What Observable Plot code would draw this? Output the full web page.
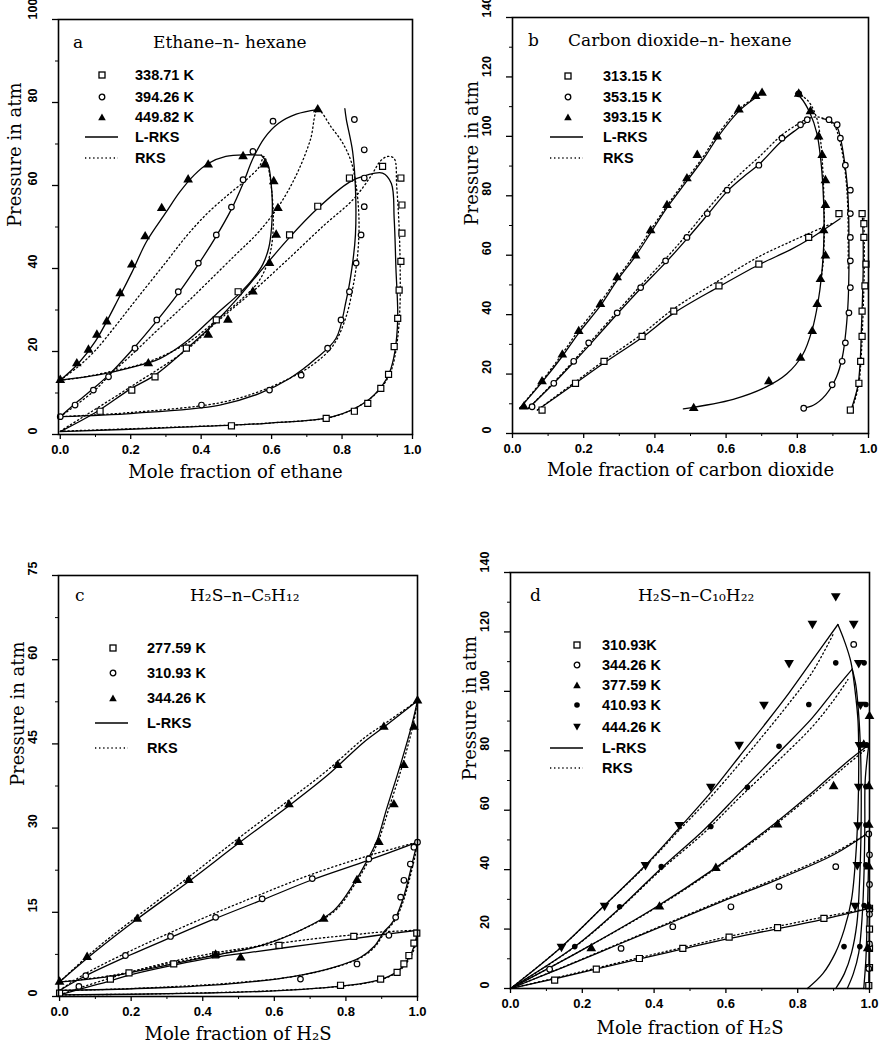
<!DOCTYPE html>
<html><head><meta charset="utf-8">
<script src="https://cdn.jsdelivr.net/npm/d3@7"></script>
<script src="https://cdn.jsdelivr.net/npm/@observablehq/plot@0.6"></script>
<style>
body{margin:0;background:#fff;width:889px;height:1059px;position:relative;overflow:hidden}
.panel{position:absolute}
.lg{position:absolute;font-family:"Liberation Sans",Arial,sans-serif;font-weight:bold;font-size:14.5px;color:#000;white-space:nowrap;line-height:14px}
.ttl{position:absolute;font-family:"DejaVu Serif",serif;font-size:17px;color:#000;white-space:nowrap;line-height:18px}
</style></head><body>
<div id="pa" class="panel" style="left:0;top:0"></div>
<div id="pb" class="panel" style="left:445px;top:0"></div>
<div id="pc" class="panel" style="left:0;top:530px"></div>
<div id="pd" class="panel" style="left:445px;top:530px"></div>
<script>
// ---------- axes ----------
const xMajor = [0, 0.2, 0.4, 0.6, 0.8, 1.0];
const xMinor = [0.1, 0.3, 0.5, 0.7, 0.9];
const yMajorA = [0, 20, 40, 60, 80, 100];
const yMinorA = [10, 30, 50, 70, 90];
const yMajorB = [0, 20, 40, 60, 80, 100, 120, 140];
const yMinorB = [10, 30, 50, 70, 90, 110, 130];
const yMajorC = [0, 15, 30, 45, 60, 75];
const yMinorC = [7.5, 22.5, 37.5, 52.5, 67.5];
const yMajorD = [0, 20, 40, 60, 80, 100, 120, 140];
const yMinorD = [10, 30, 50, 70, 90, 110, 130];

// ---------- panel a: ethane - n-hexane ----------
const aTemps = ["338.71 K", "394.26 K", "449.82 K"];
const aPts338 = [[0.113,5.6],[0.203,10.7],[0.269,13.9],[0.358,20.8],[0.443,27.6],[0.505,34.4],[0.651,48.1],[0.731,55],[0.821,61.8],
  [0.486,2.1],[0.755,3.9],[0.835,5.6],[0.873,7.5],[0.91,11.1],[0.932,14.5],[0.948,21.2],[0.958,28],[0.962,34.8],[0.967,41.7],[0.97,48.5],[0.97,55.3],[0.967,61.8],[0.915,64.6]];
const aPts394 = [[0,4.3],[0.042,7.1],[0.094,10.7],[0.137,13.9],[0.212,20.8],[0.274,27.6],[0.335,34.4],[0.392,41.3],[0.443,48.1],[0.486,54.8],[0.519,61.4],[0.547,68.2],[0.604,75.5],
  [0.835,75.9],[0.863,68.6],[0.863,61.8],[0.863,54.9],[0.854,48.1],[0.84,41.3],[0.821,34.4],[0.797,27.6],[0.759,20.8],[0.684,14.3],[0.594,10.7],[0.401,7.1]];
const aPts449 = [[0,13.1],[0.047,17.1],[0.08,20.4],[0.104,24],[0.132,27.2],[0.17,34],[0.203,40.9],[0.241,47.7],[0.288,54.5],[0.363,61.4],[0.42,65],[0.519,67],
  [0.58,65],[0.606,61],[0.618,54.5],[0.613,48.1],[0.594,41.3],[0.547,34.4],[0.476,27.6],[0.42,24],[0.25,17.1],[0.731,78.3]];
const aL338 = [[0,0.7],[0.1,5.3],[0.2,11],[0.269,14.3],[0.358,20.6],[0.443,27.3],[0.5,32.5],[0.56,38.5],[0.651,47.5],[0.731,54.5],[0.821,60.8],[0.87,62.5],[0.915,63],[0.94,60.5],[0.948,52],[0.953,40],[0.958,28],[0.95,20],[0.935,15],[0.915,11.9],[0.868,7.9],[0.774,4.3],[0.585,2.7],[0.302,1.6],[0,0.7]];
const aR338 = [[0,0.8],[0.2,11.5],[0.36,20.5],[0.443,27],[0.547,34.5],[0.65,42.5],[0.75,50.5],[0.83,56.5],[0.88,62],[0.91,66],[0.93,67],[0.948,66.5],[0.955,60],[0.962,50],[0.965,40],[0.964,30],[0.956,22],[0.94,15.5],[0.915,11.7],[0.87,8],[0.78,4.4],[0.6,2.8],[0.3,1.7],[0,0.8]];
const aL394b = [[0,4.3],[0.05,8],[0.1,11.5],[0.137,14.3],[0.2,20],[0.274,27.4],[0.335,34],[0.392,41],[0.443,47.8],[0.486,54.3],[0.519,60.5],[0.547,66.5],[0.58,71.5],[0.62,75],[0.67,77.2],[0.731,78.3]];
const aL394d = [[0.808,78.5],[0.812,76],[0.83,68.2],[0.838,59.4],[0.838,48.1],[0.828,40.1],[0.811,32],[0.783,23.2],[0.726,18.3],[0.651,13.5],[0.566,9.9],[0.453,7.1],[0.208,5.1],[0,4.3]];
const aR394 = [[0,4.3],[0.1,10.8],[0.142,14.5],[0.2,19],[0.274,25],[0.35,31],[0.42,36.8],[0.5,43.5],[0.56,48.5],[0.62,55],[0.67,62.5],[0.71,71],[0.731,78.3],[0.77,74],[0.8,70.5],[0.825,66],[0.84,60],[0.848,52],[0.845,44],[0.832,36],[0.81,28],[0.775,21.5],[0.72,17],[0.65,13.5],[0.56,10.2],[0.45,7.6],[0.2,5.3],[0,4.3]];
const aL449b = [[0,13.1],[0.05,17],[0.1,22.5],[0.17,33.5],[0.203,39],[0.245,46.5],[0.3,53.5],[0.34,58.5],[0.38,62.5],[0.42,65.3],[0.47,67],[0.528,67.4],[0.571,67.3]];
const aL449d = [[0.571,67.3],[0.59,65],[0.598,61],[0.602,56],[0.6,50],[0.592,45],[0.575,41],[0.547,37.5],[0.509,34],[0.443,29],[0.358,22.4],[0.283,18.3],[0.189,15.9],[0.104,14.3],[0.038,13.5],[0,13.1]];
const aR449 = [[0,13.1],[0.05,16.3],[0.1,20.3],[0.16,26.5],[0.22,33],[0.3,41.5],[0.36,48],[0.42,53.5],[0.48,58],[0.53,61.5],[0.565,64.5],[0.578,67],[0.59,64.5],[0.6,59],[0.605,52],[0.6,45.5],[0.585,40.5],[0.56,36.5],[0.52,33],[0.45,28],[0.36,22],[0.25,17.5],[0.15,15.3],[0.05,13.6],[0,13.1]];

// ---------- panel b: CO2 - n-hexane ----------
const bTemps = ["313.15 K", "353.15 K", "393.15 K"];
const bPts313 = [[0.083,7.9],[0.177,16.9],[0.257,24.3],[0.364,32.7],[0.453,41.2],[0.58,49.7],[0.692,57],[0.832,66],[0.917,74],
  [0.982,74],[0.987,70.6],[0.987,66],[0.993,57],[0.99,49.7],[0.982,41.2],[0.982,32.7],[0.978,24.3],[0.973,16.9],[0.949,7.9]];
const bPts353 = [[0.055,9],[0.116,16.9],[0.172,24.3],[0.214,30.5],[0.294,40.6],[0.36,49.1],[0.43,58.1],[0.49,66],[0.547,74],[0.603,81.9],[0.692,90.3],[0.757,99.4],[0.809,103.9],[0.828,105.6],
  [0.889,105.6],[0.912,103.9],[0.921,99.4],[0.935,90.3],[0.949,81.9],[0.949,74],[0.949,66],[0.949,58.1],[0.949,49.1],[0.945,40.6],[0.935,30.5],[0.926,24.3],[0.898,16.4],[0.818,8.5],[0.804,114.3]];
const bPts393 = [[0.032,9],[0.083,17.5],[0.14,26.5],[0.186,34.4],[0.247,43.5],[0.294,52.5],[0.346,59.8],[0.388,68.3],[0.434,76.8],[0.49,85.8],[0.519,93.7],[0.575,99.9],[0.636,109],[0.683,113.5],[0.701,114.6],
  [0.804,114.3],[0.837,108.4],[0.86,99.9],[0.87,93.7],[0.879,85.2],[0.879,76.8],[0.874,68.3],[0.879,59.8],[0.865,51.9],[0.856,43.5],[0.842,34.4],[0.809,25.4],[0.72,17.5],[0.509,8.5]];
const bL313b = [[0.07,7.9],[0.17,16.3],[0.257,23.7],[0.364,32.3],[0.453,40.5],[0.58,49.4],[0.692,56.8],[0.78,61.8],[0.832,65.3],[0.92,72.3]];
const bR313b = [[0.07,7.9],[0.17,16.8],[0.257,24.5],[0.364,33.5],[0.453,42],[0.58,51.5],[0.692,59.5],[0.78,64.5],[0.832,67.3],[0.9,70.8]];
const bL313d = [[0.983,72.5],[0.985,65],[0.985,55],[0.983,45],[0.98,35],[0.977,25],[0.97,16],[0.95,7.5]];
const bR313d = [[0.987,72.5],[0.988,65],[0.988,55],[0.986,45],[0.983,35],[0.979,25],[0.972,16],[0.952,7.5]];
const bL353b = [[0.045,8.5],[0.116,16.9],[0.172,24],[0.214,29.5],[0.294,40.2],[0.36,48.8],[0.43,57.5],[0.49,65.5],[0.547,73.5],[0.603,81.5],[0.65,86.5],[0.692,90.5],[0.757,98.5],[0.8,102.5],[0.828,105]];
const bR353b = [[0.045,8.5],[0.116,17.2],[0.172,24.5],[0.214,30.2],[0.294,41],[0.36,49.8],[0.43,58.8],[0.49,67],[0.547,75.3],[0.603,83],[0.65,88.5],[0.692,93],[0.757,100.5],[0.8,104],[0.83,106],[0.86,106.5],[0.885,105.5]];
const bL353d = [[0.87,106],[0.89,105.4],[0.91,103.5],[0.922,99],[0.932,92],[0.94,84],[0.944,75],[0.945,65],[0.945,55],[0.943,45],[0.937,35],[0.927,26],[0.91,19],[0.88,13],[0.845,9.5],[0.815,8.5]];
const bR353d = [[0.885,105.5],[0.905,103.5],[0.918,99],[0.93,92],[0.938,84],[0.942,75],[0.943,65],[0.943,55]];
const bL393b = [[0.02,8.5],[0.083,17.3],[0.14,26],[0.186,33.8],[0.247,43],[0.294,51.5],[0.346,59.8],[0.388,67.5],[0.434,76],[0.49,85],[0.54,93],[0.575,99.5],[0.636,108.5],[0.683,113],[0.7,114.5]];
const bR393b = [[0.02,8.5],[0.08,17.3],[0.135,26],[0.18,33.8],[0.24,43],[0.29,51.5],[0.34,59.8],[0.383,67.5],[0.43,76],[0.485,85],[0.535,93],[0.57,99.5],[0.63,108.5],[0.68,113],[0.7,114.5]];
const bL393d = [[0.795,114.5],[0.81,113],[0.835,108],[0.855,101],[0.866,92],[0.872,83],[0.875,73],[0.874,63],[0.868,53],[0.858,44],[0.842,35],[0.815,26.5],[0.77,20],[0.71,15.5],[0.62,11.5],[0.48,8.3]];
const bR393d = [[0.8,114.5],[0.83,112],[0.855,106],[0.866,98],[0.872,88],[0.875,78],[0.876,68],[0.873,58],[0.868,53]];

// ---------- panel c: H2S - n-C5H12 ----------
const cTemps = ["277.59 K", "310.93 K", "344.26 K"];
const cPts277 = [[0,0.6],[0.142,3.1],[0.194,4.2],[0.319,5.8],[0.436,7.4],[0.613,9.1],[0.822,10.7],
  [0.998,11.3],[0.99,9.5],[0.976,7.3],[0.962,5.8],[0.943,4.3],[0.897,3.1],[0.785,2.0]];
const cPts310 = [[0.054,1.8],[0.073,3.7],[0.184,7.3],[0.31,10.7],[0.436,14.1],[0.566,17.4],[0.706,21],[0.864,24.5],[1,27.5],
  [0.99,26.6],[0.98,23.6],[0.962,20.7],[0.953,17.7],[0.939,14.1],[0.92,10.9],[0.831,5.8],[0.673,3.1]];
const cPts344 = [[0,2.6],[0.077,7],[0.217,13.8],[0.361,20.7],[0.501,27.5],[0.641,34.2],[0.777,41.2],[0.906,48],[1,52.7],
  [0.99,48],[0.962,41.2],[0.934,34.2],[0.892,27.5],[0.831,20.7],[0.738,13.8],[0.506,6.9],[0.436,7.4]];
const cL277b = [[0,0.3],[0.05,1.2],[0.142,2.8],[0.2,3.9],[0.319,5.6],[0.436,7],[0.55,8],[0.7,9.3],[0.822,10.3],[0.9,11],[1,11.8]];
const cR277b = [[0,0.3],[0.05,1.4],[0.142,3.3],[0.2,4.4],[0.319,6.3],[0.436,7.8],[0.55,8.9],[0.7,10.2],[0.822,11],[0.9,11.5],[1,11.8]];
const cL277d = [[1,11.8],[0.995,10],[0.985,8],[0.97,6.3],[0.95,4.8],[0.92,3.6],[0.87,2.6],[0.78,1.8],[0.6,1],[0.4,0.6],[0.2,0.4],[0,0.3]];
const cR277d = [[1,11.8],[0.997,10],[0.988,8],[0.973,6.3],[0.953,4.8],[0.923,3.6],[0.873,2.6],[0.783,1.8],[0.6,1.05],[0.4,0.65],[0.2,0.4],[0,0.3]];
const cL310b = [[0,1.1],[0.073,3.7],[0.194,7.3],[0.31,10.5],[0.436,13.9],[0.566,17.2],[0.706,20.8],[0.864,24.3],[1,27.5]];
const cR310b = [[0,1.1],[0.073,4.1],[0.194,8],[0.31,11.4],[0.436,14.9],[0.566,18.3],[0.706,21.8],[0.864,25.1],[1,27.5]];
const cL310d = [[1,27.5],[0.99,25],[0.975,21],[0.96,17.5],[0.94,14.2],[0.925,12.8],[0.906,11.5],[0.88,9],[0.841,7],[0.766,5.2],[0.655,3.6],[0.5,2.4],[0.3,1.6],[0.1,1.2],[0,1.1]];
const cR310d = [[1,27.5],[0.993,25],[0.978,21],[0.963,17.5],[0.943,14.2],[0.928,12.8],[0.909,11.5],[0.883,9],[0.844,7],[0.769,5.2],[0.658,3.6],[0.5,2.5],[0.3,1.7],[0.1,1.2],[0,1.1]];
const cL344b = [[0,2.6],[0.1,8],[0.217,13.8],[0.361,20.5],[0.5,27.3],[0.641,34],[0.75,39.5],[0.85,45.3],[0.906,48],[1,52.7]];
const cR344b = [[0,2.6],[0.1,8.4],[0.217,14.3],[0.361,21.3],[0.5,28.2],[0.641,35],[0.75,40.4],[0.85,46],[0.906,48.5],[1,52.7]];
const cL344d = [[1,52.7],[0.985,48.6],[0.953,41.4],[0.915,33.7],[0.887,27.8],[0.859,24.2],[0.822,20.1],[0.766,15.3],[0.673,11.8],[0.56,9],[0.431,7.3],[0.3,5.6],[0.142,3.6],[0,2.6]];
const cR344d = [[1,52.7],[0.987,48.2],[0.957,41],[0.92,33.5],[0.89,27.6],[0.862,24],[0.825,20],[0.77,15.3],[0.68,12],[0.57,9.3],[0.44,7.5],[0.3,5.8],[0.142,3.7],[0,2.6]];

// ---------- panel d: H2S - n-C10H22 ----------
const dTemps = ["310.93K", "344.26 K", "377.59 K", "410.93 K", "444.26 K"];
const dPts310 = [[0.123,2.8],[0.239,6.5],[0.359,10.1],[0.48,13.5],[0.609,17.3],[0.744,20.5],[0.873,23.6],[1,27],[1,20],[1,13.5],[1,7],[0.998,1]];
const dPts344 = [[0.109,6.5],[0.308,13.5],[0.452,20.8],[0.614,27.5],[0.748,34.3],[0.906,41],[0.998,52],[1,45],[1,35],[1,25],[1,15],[0.998,6.7],[0.956,115.8]];
const dPts377 = [[0.225,13.5],[0.415,27.5],[0.572,40.5],[0.744,55.1],[0.9,68],[0.984,82],[1.0,91.6],[0.998,68],[0.998,55],[0.998,41],[0.998,27.5],[0.995,13.5]];
const dPts410 = [[0.179,14.1],[0.304,27.5],[0.42,41],[0.558,54.5],[0.66,67.7],[0.748,81.5],[0.831,95.6],[0.906,109.6],[0.985,109.6],[0.99,95.6],[0.992,82],[0.99,68],[0.99,55],[0.99,41.6],[0.985,27.9],[0.973,14.1],[0.929,14.1]];
const dPts444 = [[0.142,14.1],[0.262,27.9],[0.376,41.6],[0.47,55.1],[0.558,68],[0.637,82.1],[0.706,95.6],[0.776,109.6],[0.841,122.8],[0.906,132.1],[0.956,122.8],[0.97,109.6],[0.975,95.6],[0.972,82],[0.97,68],[0.968,55],[0.966,41.6],[0.96,27.9]];
const dL310b = [[0,0],[0.12,3.2],[0.24,6.6],[0.36,10],[0.48,13.3],[0.6,16.6],[0.74,20],[0.87,23.3],[1,27]];
const dR310b = [[0,0],[0.12,3.4],[0.24,6.9],[0.36,10.4],[0.48,13.8],[0.6,17.3],[0.74,20.8],[0.87,24],[1,27]];
const dL310d = [[1,27],[0.999,15],[0.998,0]];
const dL344b = [[0,0],[0.15,7.3],[0.3,14.8],[0.45,22.3],[0.6,29.8],[0.75,37],[0.9,45],[0.998,52.5]];
const dR344b = [[0,0],[0.15,7.4],[0.3,15],[0.45,22.6],[0.6,30.2],[0.75,37.5],[0.9,45.6],[0.998,52.5]];
const dL344d = [[0.998,52.5],[0.997,40],[0.994,25],[0.99,10],[0.984,0]];
const dL377b = [[0,0],[0.2,13],[0.4,27],[0.57,40.5],[0.72,54],[0.85,67],[0.93,75.5],[0.998,82]];
const dR377b = [[0,0],[0.2,13],[0.4,26.8],[0.57,40.2],[0.72,53.5],[0.85,66.2],[0.93,74.5],[0.99,80.5]];
const dL377d = [[0.998,82],[0.988,70],[0.987,55],[0.985,40],[0.98,25],[0.97,12],[0.955,5],[0.938,0]];
const dL410b = [[0,0],[0.179,14.1],[0.304,27],[0.42,40.5],[0.54,53.5],[0.64,66],[0.74,78.5],[0.84,91],[0.9,100],[0.952,107.5]];
const dR410b = [[0,0],[0.179,14],[0.304,26.8],[0.42,40],[0.54,52.5],[0.64,64.5],[0.74,76],[0.84,88],[0.9,97],[0.94,104]];
const dL410d = [[0.952,107.5],[0.962,102],[0.97,92],[0.975,80],[0.977,65],[0.976,50],[0.972,35],[0.965,22],[0.95,12],[0.93,5],[0.906,0]];
const dL444b = [[0,0],[0.142,14],[0.262,28],[0.376,41.5],[0.47,54],[0.558,66],[0.637,78],[0.706,88.5],[0.776,99.5],[0.841,110.5],[0.912,122.5]];
const dR444b = [[0,0],[0.142,14],[0.262,28],[0.376,41.2],[0.47,53.3],[0.558,64.5],[0.637,75.5],[0.706,85.5],[0.776,96],[0.841,106.5],[0.9,119.5]];
const dL444d = [[0.912,122.5],[0.93,117],[0.948,110],[0.96,100],[0.968,90],[0.97,75],[0.968,60],[0.962,45],[0.95,30],[0.93,20],[0.905,12],[0.87,5],[0.827,0]];

// ---------- drawing ----------
const SYM = {
  square:   {symbol: "square",   r: 3.4, fill: "#fff", stroke: "#000", strokeWidth: 1.2},
  circle:   {symbol: "circle",   r: 2.8, fill: "#fff", stroke: "#000", strokeWidth: 1.2},
  triangle: {symbol: "triangle", r: 3.6, fill: "#000", stroke: "none"},
  dot:      {symbol: "circle",   r: 2.8, fill: "#000", stroke: "none"},
  invtri:   {symbol: "triangle", r: 3.6, fill: "#000", stroke: "none", rotate: 180}
};
const fx = d => d[0], fy = d => d[1];
const serif = "DejaVu Serif";

function makePanel(o) {
  const marks = [];
  o.dotted.forEach(s => marks.push(Plot.line(s, {x: fx, y: fy, curve: "catmull-rom", stroke: "#000", strokeWidth: 1.3, strokeDasharray: "1.3,2.8"})));
  o.solid.forEach(s => marks.push(Plot.line(s, {x: fx, y: fy, curve: "catmull-rom", stroke: "#000", strokeWidth: 1.3})));
  o.points.forEach(([s, k]) => marks.push(Plot.dot(s, {x: fx, y: fy, ...SYM[k]})));
  marks.push(
    Plot.frame({stroke: "#000", strokeWidth: 1.6}),
    Plot.axisX({ticks: xMajor, tickSize: 5, tickPadding: 5, tickFormat: d3.format(".1f"), label: null, strokeWidth: 1.3}),
    Plot.axisX({ticks: xMinor, tickSize: 3, tickFormat: () => "", label: null}),
    Plot.axisY({ticks: o.yMajor, tickSize: 6, tickFormat: () => "", label: null, strokeWidth: 1.3}),
    Plot.axisY({ticks: o.yMinor, tickSize: 3, tickFormat: () => "", label: null}),
    Plot.text(o.yMajor, {y: d => d, frameAnchor: "left", dx: -26, rotate: -90, text: d => String(d), fontSize: 12.5}),
    Plot.text([o.xTitle], {frameAnchor: "bottom", dy: o.xTitleDy, text: d => d, fontFamily: serif, fontSize: 18, fontWeight: "normal"}),
    Plot.text(["Pressure in atm"], {frameAnchor: "left", dx: -o.yTitleDx, rotate: -90, text: d => d, fontFamily: serif, fontSize: 18, fontWeight: "normal"})
  );
  const svg = Plot.plot({
    width: o.width, height: o.height,
    marginLeft: o.mL, marginRight: o.mR, marginTop: o.mT, marginBottom: o.mB,
    x: {domain: o.xDomain}, y: {domain: o.yDomain},
    style: {fontFamily: "Liberation Sans", fontSize: "13px", fontWeight: "bold", background: "transparent", overflow: "visible", color: "#000"},
    marks
  });
  document.getElementById(o.id).appendChild(svg);
}

makePanel({id: "pa", width: 445, height: 530, mL: 58, mR: 33, mT: 19, mB: 96,
  xDomain: [-0.005, 1], yDomain: [0, 100], yMajor: yMajorA, yMinor: yMinorA,
  xTitle: "Mole fraction of ethane", xTitleDy: 43, yTitleDx: 43,
  solid: [aL338, aL394b, aL394d, aL449b, aL449d], dotted: [aR338, aR394, aR449],
  points: [[aPts338, "square"], [aPts394, "circle"], [aPts449, "triangle"]]});
makePanel({id: "pb", width: 444, height: 530, mL: 67, mR: 21, mT: 17, mB: 97,
  xDomain: [0, 1], yDomain: [0, 140], yMajor: yMajorB, yMinor: yMinorB,
  xTitle: "Mole fraction of carbon dioxide", xTitleDy: 42, yTitleDx: 40,
  solid: [bL313b, bL313d, bL353b, bL353d, bL393b, bL393d], dotted: [bR313b, bR313d, bR353b, bR353d, bR393b, bR393d],
  points: [[bPts313, "square"], [bPts353, "circle"], [bPts393, "triangle"]]});
makePanel({id: "pc", width: 445, height: 529, mL: 58, mR: 28, mT: 45, mB: 63,
  xDomain: [-0.003, 1], yDomain: [0, 75], yMajor: yMajorC, yMinor: yMinorC,
  xTitle: "Mole fraction of H\u2082S", xTitleDy: 43, yTitleDx: 40,
  solid: [cL277b, cL277d, cL310b, cL310d, cL344b, cL344d], dotted: [cR277b, cR277d, cR310b, cR310d, cR344b, cR344d],
  points: [[cPts277, "square"], [cPts310, "circle"], [cPts344, "triangle"]]});
makePanel({id: "pd", width: 444, height: 529, mL: 65, mR: 20, mT: 42, mB: 71,
  xDomain: [0, 1], yDomain: [0, 140], yMajor: yMajorD, yMinor: yMinorD,
  xTitle: "Mole fraction of H\u2082S", xTitleDy: 45, yTitleDx: 40,
  solid: [dL310b, dL310d, dL344b, dL344d, dL377b, dL377d, dL410b, dL410d, dL444b, dL444d], dotted: [dR310b, dR344b, dR377b, dR410b, dR444b],
  points: [[dPts310, "square"], [dPts344, "circle"], [dPts377, "triangle"], [dPts410, "dot"], [dPts444, "invtri"]]});

// ---------- titles & legends (HTML overlay) ----------
function el(cls, left, top, html) {
  const e = document.createElement("div");
  e.className = cls; e.style.left = left + "px"; e.style.top = top + "px"; e.innerHTML = html;
  document.body.appendChild(e); return e;
}
const symSvg = {
  square: '<rect x="1" y="1" width="6" height="6" fill="#fff" stroke="#000" stroke-width="1.3"/>',
  circle: '<circle cx="4" cy="4" r="2.8" fill="#fff" stroke="#000" stroke-width="1.3"/>',
  triangle: '<path d="M4,0.5L7.8,7.2H0.2Z" fill="#000"/>',
  dot: '<circle cx="4" cy="4" r="2.8" fill="#000"/>',
  invtri: '<path d="M0.2,0.8H7.8L4,7.5Z" fill="#000"/>'
};
function legend(mx, tx, lx0, lx1, rows, temps, kinds) {
  temps.forEach((t, i) => {
    el("lg", mx - 4, rows[i] - 4, '<svg width="8" height="8" style="display:block">' + symSvg[kinds[i]] + '</svg>');
    el("lg", tx, rows[i] - 7, t);
  });
  const n = temps.length;
  const w = lx1 - lx0;
  el("lg", lx0, rows[n] - 2, '<svg width="' + w + '" height="4" style="display:block"><line x1="0" y1="2" x2="' + w + '" y2="2" stroke="#000" stroke-width="1.4"/></svg>');
  el("lg", tx, rows[n] - 7, "L-RKS");
  el("lg", lx0, rows[n + 1] - 2, '<svg width="' + w + '" height="4" style="display:block"><line x1="0" y1="2" x2="' + w + '" y2="2" stroke="#000" stroke-width="1.4" stroke-dasharray="1.3,2.8"/></svg>');
  el("lg", tx, rows[n + 1] - 7, "RKS");
}
legend(102, 135, 85, 118, [75, 97, 117, 137, 158], aTemps, ["square", "circle", "triangle"]);
legend(568, 603, 550, 583, [76, 97, 117, 137, 158], bTemps, ["square", "circle", "triangle"]);
legend(113, 147, 95, 128, [648, 673, 698, 723, 748], cTemps, ["square", "circle", "triangle"]);
legend(577, 602, 550, 583, [645, 665, 685, 705, 727, 748, 768], dTemps, ["square", "circle", "triangle", "dot", "invtri"]);

el("ttl", 73, 33, "a");
el("ttl", 153, 33, "Ethane\u2013n- hexane");
el("ttl", 528, 31, "b");
el("ttl", 568, 31, "Carbon dioxide\u2013n- hexane");
el("ttl", 75, 586, "c");
el("ttl", 190, 586, "H\u2082S\u2013n\u2013C\u2085H\u2081\u2082");
el("ttl", 530, 586, "d");
el("ttl", 638, 586, "H\u2082S\u2013n\u2013C\u2081\u2080H\u2082\u2082");
</script>
</body></html>
